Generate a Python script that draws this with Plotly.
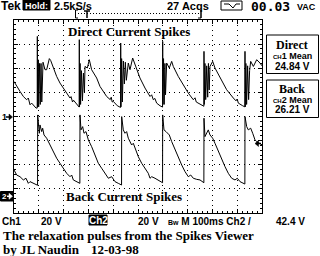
import plotly.graph_objects as go

# ---------------- data (time in ms, volts) ----------------
ch1_pts = [
    (0, 29.0), (10.8, 24.9), (24.2, 20.8), (37.6, 16.6), (51.1, 13.9), (57.8, 15.3), (64.5, 9.7), (71.2, 11.1),
    (77.9, 9.7), (88.7, 7.0), (93.6, 7.0),
    (94.1, 66.4), (95.0, 8.0), (98.0, 47.0), (99.5, 8.0), (103.0, 44.0), (106.0, 10.0), (109.0, 44.0),
    (112.0, 12.0),
    (117.0, 45.0), (125.0, 38.8), (131.7, 38.8), (142.5, 48.0), (147.8, 46.5), (158.6, 40.2), (172.0, 33.2),
    (185.5, 27.7), (199.0, 23.6), (212.4, 19.4), (225.8, 15.3), (230.0, 16.5), (236.0, 12.0), (240.0, 13.5),
    (252.8, 9.7), (262.8, 7.8),
    (263.3, 63.7), (264.2, 8.0), (266.5, 44.0), (268.5, 10.0), (272.0, 38.0), (276.0, 13.0), (280.0, 36.0),
    (284.0, 20.0),
    (286.3, 41.5), (295.6, 40.2), (303.7, 47.1), (313.0, 38.8), (333.3, 31.9), (346.8, 24.9), (373.6, 16.6),
    (388.0, 14.0), (392.0, 16.0), (396.0, 12.0), (400.5, 12.5), (416.6, 8.9), (429.7, 7.5),
    (430.2, 60.9), (431.2, 8.0), (434.0, 48.0), (437.0, 12.0), (441.0, 46.0), (445.0, 27.0), (449.0, 45.0),
    (453.0, 30.0),
    (460.9, 44.3), (467.7, 38.8), (478.5, 48.5), (487.9, 42.9), (508.0, 31.9), (528.2, 23.6), (548.4, 16.6),
    (555.0, 18.0), (561.7, 13.9), (568.0, 15.0), (575.2, 11.1), (588.7, 8.9), (599.0, 7.8),
    (599.5, 62.3), (600.5, 10.0), (603.0, 48.0), (605.5, 10.0), (608.5, 44.0), (611.0, 18.0),
    (615.6, 44.3), (626.2, 40.2), (635.8, 45.7), (642.3, 41.5), (662.4, 33.2), (682.6, 26.3), (702.8, 19.4),
    (723.0, 13.9), (730.0, 15.5), (735.0, 12.0), (743.1, 11.1), (760.8, 9.7), (765.6, 8.5),
    (766.1, 54.0), (767.2, 10.0), (770.0, 44.0), (773.0, 14.0), (777.0, 42.0), (781.0, 16.0), (784.0, 44.0),
    (787.0, 22.0),
    (790.3, 41.5), (801.1, 45.7), (810.4, 40.2), (830.6, 31.9), (857.5, 22.2), (884.4, 15.3), (895.0, 13.0),
    (900.0, 14.5), (904.5, 11.1), (922.1, 8.9), (930.9, 8.0),
    (931.4, 54.0), (932.4, 8.0), (935.0, 44.0), (938.0, 10.0), (942.0, 42.0), (946.0, 14.0), (950.0, 38.0),
    (954.4, 45.7), (965.2, 41.5), (978.6, 47.1), (992.0, 44.3), (1000.0, 42.0),
]

ch2_pts = [
    (0, 22.2), (10.8, 18.0), (24.2, 16.6), (37.6, 13.9), (48.4, 15.3), (57.8, 11.1), (64.5, 12.5), (77.9, 11.1),
    (91.4, 9.7), (95.0, 9.5),
    (95.4, 67.8), (98.1, 58.1), (102.2, 52.6), (104.8, 59.5), (111.6, 54.0), (115.6, 56.8), (121.0, 51.2),
    (131.7, 48.5), (138.4, 45.7), (145.2, 42.9), (158.6, 37.4), (172.0, 31.9), (185.5, 27.7), (199.0, 23.6),
    (212.4, 19.4), (225.8, 16.6), (232.5, 18.0), (239.2, 13.9), (252.8, 12.5), (265.6, 11.1),
    (266.1, 67.8), (270.2, 55.4), (276.9, 58.1), (282.2, 52.6), (290.3, 54.0), (299.7, 47.1), (313.1, 41.5),
    (326.6, 34.6), (340.0, 27.7), (353.5, 23.6), (366.9, 19.4), (380.4, 15.3), (393.8, 16.6), (407.2, 12.5),
    (420.6, 11.1), (433.7, 9.7),
    (434.2, 66.4), (440.7, 55.4), (447.5, 52.6), (454.2, 54.0), (460.9, 48.5), (474.4, 42.9), (481.1, 44.3),
    (487.9, 40.2), (501.2, 33.2), (514.9, 27.7), (528.2, 23.6), (541.5, 19.4), (548.4, 15.3), (555.2, 16.6),
    (568.5, 15.3), (581.8, 13.9), (599.0, 11.6),
    (599.5, 67.8), (604.8, 55.4), (612.9, 54.0), (618.1, 52.6), (626.2, 51.2), (635.8, 45.7), (649.2, 38.8),
    (662.4, 31.9), (676.2, 26.3), (689.5, 20.8), (702.8, 16.6), (712.5, 18.0), (723.0, 15.3), (736.7, 14.4),
    (750.0, 13.9), (765.6, 11.6),
    (766.1, 65.1), (770.1, 49.8), (777.0, 52.6), (783.4, 55.4), (790.3, 51.2), (801.1, 48.5), (810.4, 44.3),
    (823.8, 37.4), (837.5, 30.5), (850.8, 24.9), (864.1, 19.4), (877.8, 15.3), (891.1, 13.9), (900.4, 15.3),
    (911.3, 12.5), (924.5, 11.1), (930.9, 10.5),
    (931.4, 66.4), (938.3, 58.1), (944.8, 55.4), (954.4, 56.8), (962.5, 52.6), (971.8, 47.1), (978.6, 45.7),
    (992.0, 44.3), (1000.0, 43.0),
]

ch1_t = [p[0] for p in ch1_pts]
ch1_v = [p[1] for p in ch1_pts]
ch2_t = [p[0] for p in ch2_pts]
ch2_v = [p[1] for p in ch2_pts]

x_range = [0, 1000]          # 10 div x 100 ms
ch1_range = [-80, 80]        # 8 div x 20 V, ground at centre
ch2_range = [-13.5, 146.5]   # 8 div x 20 V, ground at "2" marker

W, H = 320, 256
SERIF = "Liberation Serif"
SANS = "Liberation Sans"
MONO = "DejaVu Sans Mono"


def px(x):
    return x / W


def py(y):
    return 1 - y / H


fig = go.Figure()
fig.add_trace(go.Scatter(x=ch1_t, y=ch1_v, mode="lines", yaxis="y",
                         line=dict(color="black", width=1), hoverinfo="skip"))
fig.add_trace(go.Scatter(x=ch2_t, y=ch2_v, mode="lines", yaxis="y2",
                         line=dict(color="black", width=1), hoverinfo="skip"))

common = dict(showline=True, linecolor="black", linewidth=1, mirror="ticks",
              ticks="inside", ticklen=4, tickcolor="black", tickwidth=1,
              showticklabels=False, showgrid=True, gridcolor="black", gridwidth=1,
              griddash="1px,4px", zeroline=False, fixedrange=True)

fig.update_layout(
    width=W, height=H, margin=dict(l=0, r=0, t=0, b=0),
    paper_bgcolor="white", plot_bgcolor="white", showlegend=False,
    xaxis=dict(range=x_range, dtick=100, tick0=0, domain=[px(14), px(262)],
               minor=dict(ticks="inside", ticklen=2, tickcolor="black", dtick=20, showgrid=False),
               **common),
    yaxis=dict(range=ch1_range, dtick=20, tick0=0, domain=[py(213), py(20)],
               minor=dict(ticks="inside", ticklen=2, tickcolor="black", dtick=4, showgrid=False),
               **common),
    yaxis2=dict(range=ch2_range, overlaying="y", visible=False, fixedrange=True),
)

shapes = []
annots = []


def txt(text, x, y, size, family=SANS, color="black", xanchor="center"):
    annots.append(dict(text=text, x=px(x), y=py(y), xref="paper", yref="paper",
                       xanchor=xanchor, yanchor="middle", showarrow=False, borderpad=0,
                       font=dict(size=size, family=family, color=color)))


def rect(x0, y0, x1, y1, fill=None):
    shapes.append(dict(type="rect", xref="paper", yref="paper",
                       x0=px(x0), x1=px(x1), y0=py(y1), y1=py(y0),
                       line=dict(color="black", width=1),
                       fillcolor=fill if fill else "rgba(0,0,0,0)"))


def seg(x0, y0, x1, y1, dash="solid", w=1, color="black"):
    shapes.append(dict(type="line", xref="paper", yref="paper",
                       x0=px(x0), x1=px(x1), y0=py(y0), y1=py(y1),
                       line=dict(color=color, width=w, dash=dash)))


def poly(pts, color="black"):
    path = "M " + " L ".join("%f,%f" % (px(a), py(b)) for a, b in pts) + " Z"
    shapes.append(dict(type="path", xref="paper", yref="paper", path=path,
                       fillcolor=color, line=dict(color=color, width=0.5)))


def arrow_right(x0, x1, y, color="black"):
    seg(x0, y, x1 - 2, y, w=1.5, color=color)
    poly([(x1 - 3.5, y - 3), (x1, y), (x1 - 3.5, y + 3)], color=color)


# header
txt("<b>Tek</b>", 0, 6, 12, xanchor="left")
rect(23, 0, 50, 10, fill="black")
txt("<b>Hold:</b>", 36.5, 5.5, 9, color="white")
txt("<b>2.5kS/s</b>", 53, 6, 11, xanchor="left")
txt("<b>27 Acqs</b>", 166, 6, 11, xanchor="left")
rect(221, 1, 242, 10)
shapes.append(dict(type="path", xref="paper", yref="paper",
                   path="M %f,%f L %f,%f L %f,%f L %f,%f L %f,%f" % (
                       px(224), py(4), px(229), py(4), px(233), py(8), px(236), py(4), px(240), py(4)),
                   line=dict(color="black", width=1)))
txt("<b>00.03</b>", 250, 6.5, 13, family=MONO, xanchor="left")
txt("<b>VAC</b>", 296, 6.5, 9, xanchor="left")

# record indicator
seg(75.5, 10, 75.5, 18)
seg(75.5, 10, 78, 10)
seg(75.5, 18, 78, 18)
seg(78, 13.5, 200, 13.5, dash="1px,2px")
seg(84, 11, 90, 11, w=1.5)
seg(87, 11, 87, 18, w=1.5)
seg(201, 10, 201, 18, w=1.5)
seg(198, 18, 201, 18)

# channel markers
txt("<b>1</b>", 1, 117, 9, xanchor="left")
arrow_right(6, 12.5, 117)
rect(0.5, 191.5, 13, 201, fill="black")
txt("<b>2</b>", 4, 196.3, 8, color="white")
arrow_right(7, 12.5, 196.3, color="white")
# trigger level marker (right edge)
seg(256, 143.5, 261, 143.5, w=1.5)
poly([(258.5, 140.5), (255, 143.5), (258.5, 146.5)])

# titles inside graticule
txt("<b>Direct Current Spikes</b>", 129, 31, 13, family=SERIF)
txt("<b>Back Current Spikes</b>", 123.5, 196, 13, family=SERIF)

# right panels
rect(266.5, 35, 318.5, 73.5)
txt("<b>Direct</b>", 292, 44.5, 12, family=SERIF)
txt("<b><span style='font-size:6px'>CH</span>1 Mean</b>", 292, 56, 9)
txt("<b>24.84 V</b>", 292, 66, 10)
rect(266.5, 80, 318.5, 117.5)
txt("<b>Back</b>", 292, 88.5, 12, family=SERIF)
txt("<b><span style='font-size:6px'>CH</span>2 Mean</b>", 292, 99.5, 9)
txt("<b>26.21 V</b>", 292, 109.5, 10)

# bottom status line
txt("<b>Ch1</b>", 1, 221, 10, xanchor="left")
txt("<b>20 V</b>", 40, 221, 10, xanchor="left")
rect(89, 215, 107, 225, fill="black")
txt("<b>Ch2</b>", 98, 220, 10, color="white")
txt("<b>20 V</b>", 137, 221, 10, xanchor="left")
txt("<b><span style='font-size:7px'>Bw</span> M 100ms Ch2 /</b>", 167, 221, 10, xanchor="left")
txt("<b>42.4 V</b>", 275, 221, 10, xanchor="left")

# caption
txt("<b>The relaxation pulses from the Spikes Viewer</b>", 2, 235.5, 13, family=SERIF, xanchor="left")
txt("<b>by JL Naudin</b>", 2, 249.5, 13, family=SERIF, xanchor="left")
txt("<b>12-03-98</b>", 90, 249.5, 13, family=SERIF, xanchor="left")

fig.update_layout(shapes=shapes, annotations=annots)
fig.write_html("out.html")
